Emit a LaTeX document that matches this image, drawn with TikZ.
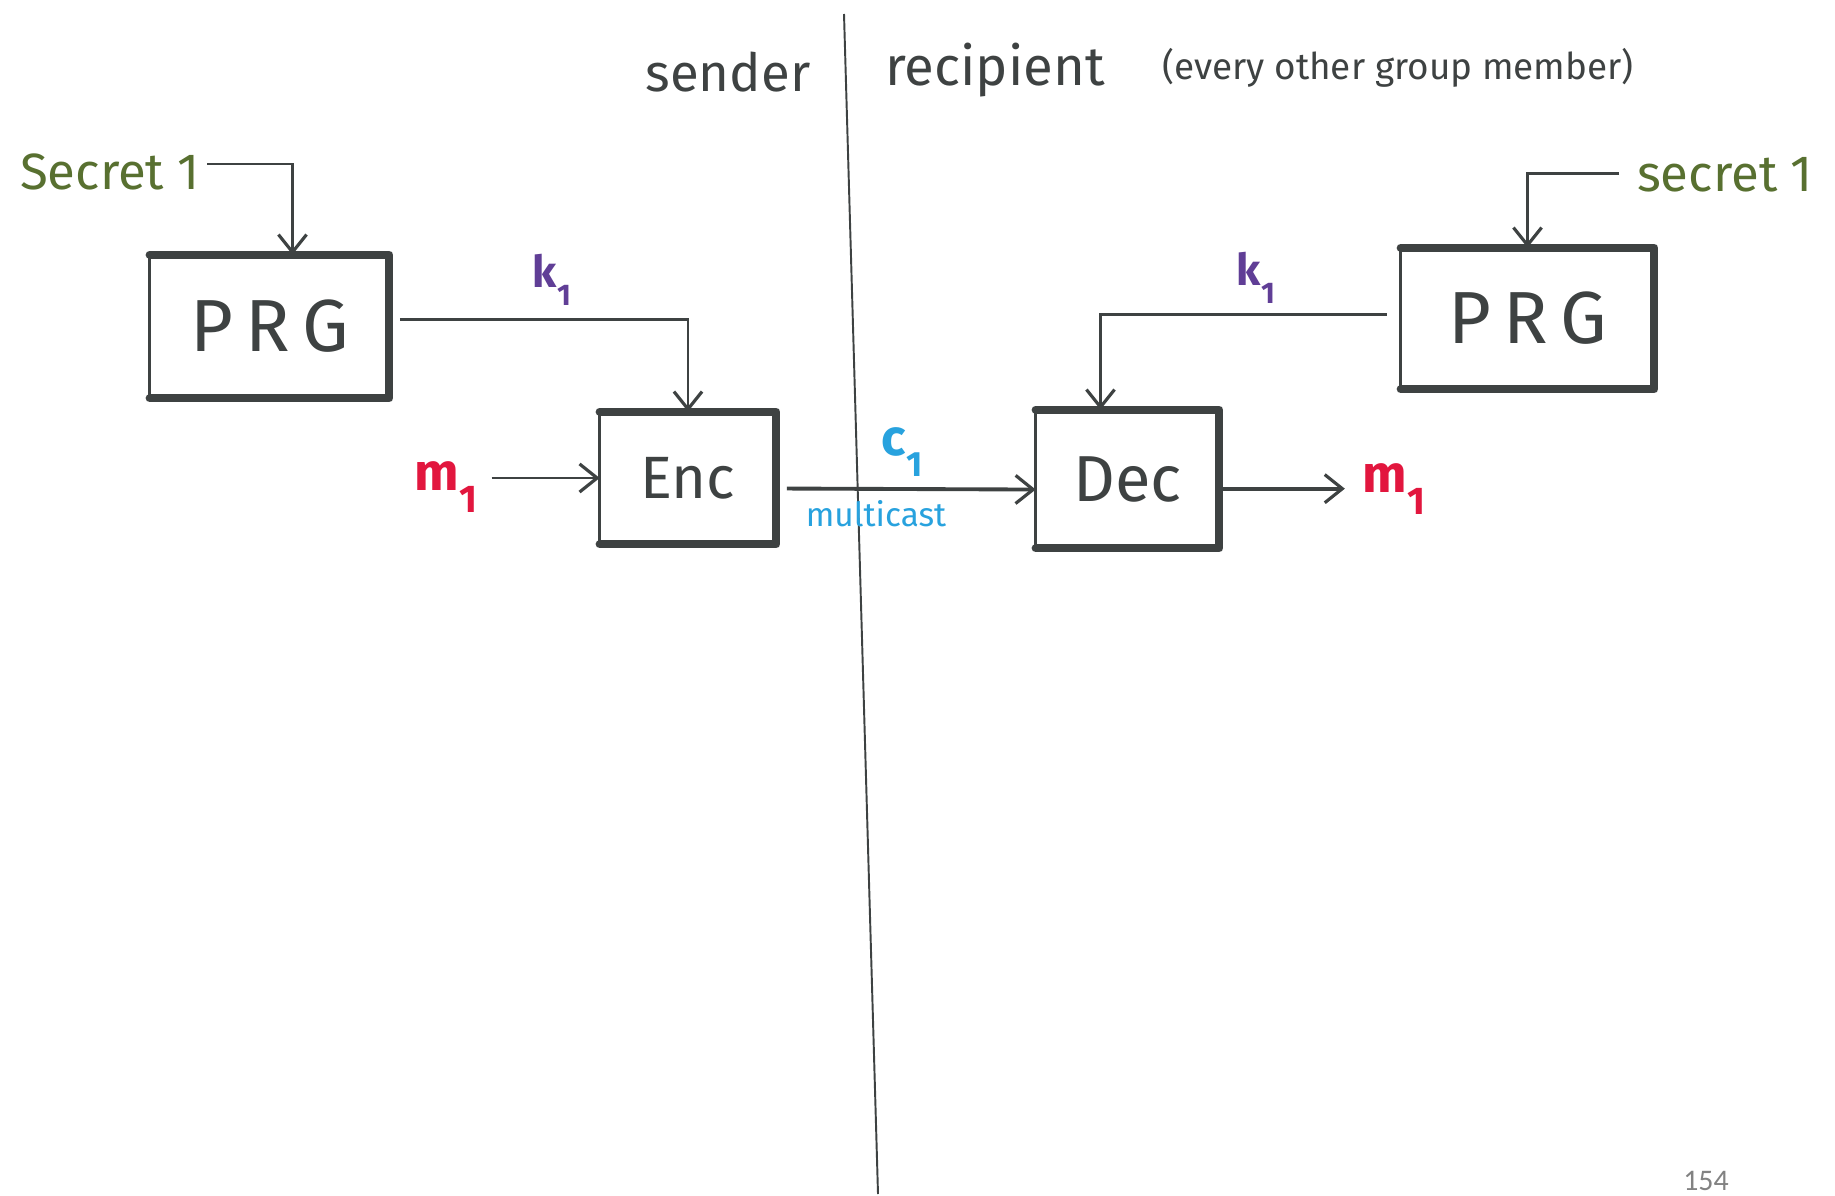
\documentclass[tikz,border=0pt]{standalone}
\usepackage{fontspec}
\setmainfont{Fira Sans}
\newfontfamily\pagenumfont{Carlito}
\usetikzlibrary{arrows.meta,calc}
\definecolor{ink}{RGB}{62,66,66}
\definecolor{secgreen}{RGB}{88,112,48}
\definecolor{keypurple}{RGB}{96,62,150}
\definecolor{msgred}{RGB}{226,22,62}
\definecolor{ctblue}{RGB}{40,162,222}
\definecolor{pggray}{RGB}{130,130,130}
\newcommand{\fsz}[1]{\fontsize{#1}{#1}\selectfont}
\newcommand{\lbl}[3]{#1\raisebox{-0.42em}{\fsz{#3}#2}}
\newcommand{\sketchbox}[1]{%
  \draw[thinedge] (#1.north west) -- (#1.south west);
  \draw[thickedge] (#1.north west) -- (#1.north east) -- (#1.south east) -- (#1.south west);}
\tikzset{
  blk/.style={draw=none,inner sep=0pt,text=ink},
  txt/.style={inner sep=0pt,text=ink},
  conn/.style={draw=ink,line width=1.6pt,-{Straight Barb[length=10pt,width=16pt,line width=1.8pt]}},
  thickedge/.style={draw=ink,line width=4.6pt,line cap=round,line join=round},
  thinedge/.style={draw=ink,line width=1.8pt,line cap=round},
}
\begin{document}
\begin{tikzpicture}[x=0.02cm,y=-0.02cm]
\fill[white] (0,0) rectangle (1835,1196);
\useasboundingbox (0,0) rectangle (1835,1196);

% divider
\draw[ink,line width=1.1pt] (844,14) -- (878,1194);

% headings
\node[txt,font=\fsz{30}] (sender) at (728,72) {sender};
\node[txt,font=\fsz{31}] (recip) at (995,70) {recipient};
\node[txt,font=\fsz{21}] (every) at (1398,68) {(every other group member)};

% boxes
\node[blk,minimum width=4.78cm,minimum height=2.86cm,font=\fsz{42}] (prgL) at (269.5,326.5) {P\,R\,G};
\node[blk,minimum width=3.52cm,minimum height=2.64cm,font=\fsz{34}] (enc) at (688,478) {Enc};
\node[blk,minimum width=3.66cm,minimum height=2.76cm,font=\fsz{37}] (dec) at (1127.5,479) {Dec};
\node[blk,minimum width=5.06cm,minimum height=2.82cm,font=\fsz{42}] (prgR) at (1527.5,318.5) {P\,R\,G};
\sketchbox{prgL}
\sketchbox{enc}
\sketchbox{dec}
\sketchbox{prgR}

% inputs / outputs
\node[txt,text=secgreen,font=\fsz{29}] (secL) at (110,172) {Secret 1};
\node[txt,text=secgreen,font=\fsz{29}] (secR) at (1725,175) {secret 1};
\node[txt,text=msgred,font=\bfseries\fsz{30}] (mL) at (446,487) {\lbl{m}{1}{22}};
\node[txt,text=msgred,font=\bfseries\fsz{30}] (mR) at (1394,489) {\lbl{m}{1}{22}};

% labels
\node[txt,text=keypurple,font=\bfseries\fsz{25}] (k1L) at (552,280) {\lbl{k}{1}{17}};
\node[txt,text=keypurple,font=\bfseries\fsz{25}] (k1R) at (1256,278) {\lbl{k}{1}{17}};
\node[txt,text=ctblue,font=\bfseries\fsz{29}] (c1) at (902,452) {\lbl{c}{1}{20}};
\node[txt,text=ctblue,font=\fsz{19}] (mcast) at (876,514) {multicast};

% connectors
\draw[conn] ([xshift=4pt,yshift=4.5pt]secL.east) -| ($(prgL.north)+(23,0)$);
\draw[conn] ([xshift=6pt,yshift=4pt]prgL.east) -| (enc.north);
\draw[conn] ([xshift=8pt]mL.east |- enc.west) -- (enc.west);
\draw[conn,line width=2.2pt] ([xshift=6pt,yshift=-6pt]enc.east) -- ([yshift=-6pt]dec.west);
\draw[conn,line width=2.2pt] ([xshift=2pt,yshift=-5.5pt]dec.east) -- ([xshift=-10pt,yshift=-5.5pt]mR.west |- dec.east);
\draw[conn] ([xshift=-8pt,yshift=2.5pt]prgR.west) -| ($(dec.north)+(-27,0)$);
\draw[conn] ([xshift=-10pt,yshift=1pt]secR.west) -| (prgR.north);

% page number
\node[inner sep=0pt,text=pggray,font=\pagenumfont\fsz{17}] (pnum) at (1706,1181) {154};
\end{tikzpicture}
\end{document}
